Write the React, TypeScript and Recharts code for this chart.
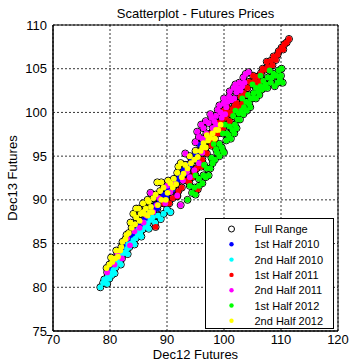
import React from 'react';
import { ScatterChart, Scatter, XAxis, YAxis, CartesianGrid, ReferenceArea } from 'recharts';

type Pt = [number, number];

const xTicks = [70, 80, 90, 100, 110, 120];
const yTicks = [75, 80, 85, 90, 95, 100, 105, 110];
const titleText = 'Scatterplot - Futures Prices';
const xLabel = 'Dec12 Futures';
const yLabel = 'Dec13 Futures';

const seriesNames = ['1st Half 2010', '2nd Half 2010', '1st Half 2011', '2nd Half 2011', '1st Half 2012', '2nd Half 2012'];
const seriesColors = ['#0000FF', '#00FFFF', '#FF0000', '#FF00FF', '#00FF00', '#FFFF00'];

const h1_2010: Pt[] = [
  [80.2, 82.0], [81.0, 82.9], [81.8, 83.7], [82.5, 84.4], [83.2, 85.2], [84.0, 85.9], [84.7, 86.5],
  [85.3, 87.1], [86.0, 87.7], [86.7, 88.4], [87.3, 88.9], [88.0, 89.4], [88.7, 90.0], [89.4, 90.6],
  [90.1, 91.1], [90.8, 91.6], [91.5, 92.2], [92.2, 92.8], [92.9, 93.4], [93.6, 94.0], [94.3, 94.7],
  [95.0, 95.3], [95.8, 96.3], [96.3, 96.8], [89.0, 89.7], [86.4, 87.6], [84.4, 85.9], [91.0, 91.2],
  [81.5, 83.6], [82.9, 84.8], [83.6, 85.8], [85.0, 86.9], [85.8, 87.4], [86.9, 88.0], [87.6, 89.2],
  [88.3, 89.0], [89.9, 90.4], [90.5, 91.6], [92.0, 92.3], [93.2, 93.0], [94.0, 93.9], [95.3, 94.6],
];

const h2_2010: Pt[] = [
  [78.3, 80.0], [78.8, 80.5], [79.2, 80.6], [79.6, 81.2], [80.0, 81.6], [80.3, 81.4], [80.6, 82.0],
  [81.0, 82.3], [81.3, 82.8], [81.7, 83.0], [82.0, 83.5], [82.3, 83.9], [82.7, 84.0], [83.0, 84.4],
  [83.4, 84.6], [83.7, 85.0], [84.1, 85.4], [84.5, 85.6], [84.9, 86.0], [85.3, 86.2], [85.7, 86.6],
  [86.2, 86.9], [86.6, 87.3], [87.1, 87.7], [87.5, 88.0], [83.2, 84.9], [81.6, 83.4], [85.0, 86.6],
  [86.0, 87.4], [79.9, 81.0], [88.4, 88.2], [89.4, 88.4], [90.6, 88.6],
  [79.0, 80.9], [80.8, 81.6], [81.9, 82.6], [83.1, 83.8], [84.3, 84.9], [85.5, 85.8], [86.8, 86.7],
  [87.9, 87.4], [88.9, 87.8], [90.0, 88.9], [79.5, 80.4],
];

const h1_2011: Pt[] = [
  [88.0, 86.9], [89.4, 89.6], [90.4, 89.6], [91.0, 90.2], [91.8, 90.4], [92.6, 91.4], [93.5, 92.2],
  [94.4, 92.6], [95.4, 91.2], [95.2, 93.6], [96.2, 94.6], [97.0, 95.3], [97.8, 96.2], [98.2, 96.6],
  [98.6, 97.6], [99.3, 98.3], [99.6, 99.0], [100.3, 99.4], [100.8, 100.0], [101.5, 100.4], [102.2, 101.1],
  [102.9, 101.8], [103.5, 102.2], [104.1, 102.8], [104.8, 103.4], [105.4, 103.6], [105.9, 104.1],
  [106.5, 104.5], [107.2, 104.9], [107.7, 105.2], [108.2, 105.9], [108.7, 106.4], [109.1, 106.0],
  [109.6, 107.0], [110.1, 107.4], [110.6, 107.8], [111.0, 108.0], [111.4, 108.4], [106.2, 103.5],
  [103.2, 101.0], [101.0, 99.0], [99.0, 97.6], [97.4, 96.8], [100.0, 100.2],
  [96.6, 95.8], [97.8, 97.6], [98.8, 98.8], [99.8, 98.2], [100.5, 100.6], [101.2, 99.8], [101.9, 100.8],
  [102.6, 100.6], [103.8, 102.0], [104.4, 103.5], [105.1, 104.2], [105.7, 103.0], [106.8, 105.0],
  [107.5, 105.8], [108.5, 105.4], [109.4, 106.6], [110.4, 107.2], [92.0, 91.0], [93.9, 92.0],
  [94.8, 93.2], [96.0, 93.8], [90.0, 89.6],
];

const h2_2011: Pt[] = [
  [95.0, 96.6], [95.6, 97.2], [96.4, 98.2], [96.9, 97.6], [97.3, 98.8], [97.8, 99.4], [98.3, 99.0],
  [98.9, 100.3], [99.4, 100.0], [99.9, 101.0], [100.4, 100.6], [100.9, 101.8], [101.3, 101.4],
  [101.7, 102.8], [102.2, 102.3], [102.7, 103.4], [103.2, 103.0], [103.8, 104.4], [104.3, 104.6],
  [103.4, 104.0], [101.0, 102.4], [99.2, 100.8], [97.6, 99.8], [98.6, 98.6], [100.2, 99.8], [96.2, 97.0],
  [79.5, 81.7], [80.8, 82.6], [82.1, 83.3], [83.5, 84.8], [85.2, 86.8], [86.4, 88.2], [87.1, 90.8],
  [88.6, 90.2], [89.7, 89.6], [90.6, 90.9], [91.8, 90.5], [92.4, 89.4], [93.2, 95.3], [94.0, 92.6],
  [94.8, 93.4],
  [81.3, 83.9], [83.0, 85.6], [84.3, 86.4], [85.9, 87.4], [87.6, 88.6], [88.2, 89.4], [90.0, 91.6],
  [91.4, 91.8], [92.8, 92.2], [93.5, 93.2], [95.6, 94.2], [96.2, 95.4],
  [95.3, 97.8], [96.0, 98.6], [96.8, 99.0], [97.1, 97.2], [98.0, 98.2], [98.6, 99.6], [99.6, 99.4],
  [100.6, 101.2], [101.8, 101.6], [102.4, 102.8], [102.9, 102.5], [103.6, 103.4], [100.0, 101.6],
  [102.0, 103.2],
];

const h1_2012: Pt[] = [
  [93.6, 90.0], [94.4, 90.8], [95.0, 90.6], [95.6, 91.6], [96.2, 91.9], [96.8, 92.6], [97.3, 92.8],
  [97.6, 93.6], [98.0, 94.2], [98.4, 94.6], [98.8, 95.4], [99.2, 95.0], [99.6, 96.0], [100.0, 95.4],
  [100.4, 96.8], [100.8, 97.4], [101.2, 97.0], [101.5, 98.0], [101.9, 98.6], [102.4, 99.2], [102.6, 99.9],
  [103.0, 100.2], [103.5, 100.6], [103.9, 101.2], [104.4, 101.0], [104.7, 101.6], [105.2, 102.2],
  [105.6, 102.8], [106.0, 102.4], [106.4, 103.0], [106.9, 103.6], [107.3, 103.2], [107.7, 104.0],
  [108.2, 103.4], [108.7, 104.4], [109.2, 104.2], [109.6, 104.8], [110.1, 105.0], [110.3, 103.4],
  [109.8, 103.8], [108.0, 104.8], [106.4, 104.2], [105.0, 103.2], [103.2, 101.6], [101.6, 99.6],
  [99.8, 97.6], [98.2, 96.4], [96.5, 94.0], [95.0, 92.8],
  [94.0, 91.6], [94.8, 91.4], [95.6, 92.4], [96.4, 92.8], [97.0, 93.6], [97.8, 94.8], [98.6, 95.8],
  [99.2, 96.4], [99.8, 95.6], [100.5, 97.6], [101.0, 98.4], [101.8, 97.6], [102.2, 98.2], [102.8, 99.2],
  [103.4, 99.8], [104.0, 100.2], [104.6, 100.6], [105.0, 101.6], [105.6, 101.6], [106.2, 102.0],
  [106.6, 102.6], [107.0, 102.8], [107.6, 102.8], [108.4, 104.0], [108.9, 103.0], [109.4, 103.4],
  [110.0, 104.2], [102.0, 100.2], [104.2, 102.0], [100.2, 98.6],
];

const h2_2012: Pt[] = [
  [79.4, 82.2], [79.9, 82.6], [80.4, 82.9], [80.9, 83.3], [81.4, 83.5], [81.8, 84.2], [82.2, 85.2],
  [82.7, 85.5], [83.3, 86.2], [83.8, 86.8], [84.1, 88.4], [84.6, 88.0], [85.0, 89.0], [85.4, 88.4],
  [85.8, 89.6], [86.3, 89.0], [86.8, 89.8], [87.2, 89.2], [87.6, 90.2], [88.0, 90.6], [88.3, 92.0],
  [88.8, 91.0], [89.4, 91.4], [90.1, 90.8], [90.6, 91.9], [91.2, 92.4], [91.8, 93.1], [92.4, 94.2],
  [92.9, 93.0], [93.6, 93.6], [94.2, 94.2], [94.8, 94.6], [95.4, 94.9], [95.9, 95.6], [96.4, 96.5],
  [96.8, 96.0], [97.2, 96.8], [97.6, 97.1], [98.0, 97.6], [98.6, 98.0], [99.0, 98.0], [86.0, 88.4],
  [87.0, 88.6], [89.0, 90.0], [91.0, 91.4],
  [80.2, 83.4], [81.1, 84.2], [82.0, 84.6], [82.9, 86.0], [83.6, 87.4], [84.4, 87.2], [85.2, 87.6],
  [86.6, 88.2], [87.4, 88.6], [88.4, 89.4], [89.8, 90.0], [90.2, 92.2], [91.6, 91.8], [92.6, 92.6],
  [93.2, 94.0], [94.0, 95.0], [95.0, 95.6], [96.2, 96.0], [97.0, 97.4], [98.4, 97.0], [99.4, 98.6],
  [84.6, 89.0], [85.8, 88.6], [86.6, 90.0], [89.0, 92.0], [92.0, 93.8],
];

const seriesData: Pt[][] = [h1_2010, h2_2010, h1_2011, h2_2011, h1_2012, h2_2012];
const fullRange: Pt[] = seriesData.flat();

const toObj = (arr: Pt[]) => arr.map(([x, y]) => ({ x, y }));

const FONT = '"Liberation Sans", Arial, Helvetica, sans-serif';

const RingShape = (props: any) => {
  const { cx, cy } = props;
  if (cx == null || cy == null) return <g />;
  return <circle cx={cx} cy={cy} r={3.5} fill="none" stroke="#000" strokeWidth={1} />;
};

const makeDot = (color: string) => (props: any) => {
  const { cx, cy } = props;
  if (cx == null || cy == null) return <g />;
  return <circle cx={cx} cy={cy} r={2.9} fill={color} stroke="none" />;
};

const Legend = () => {
  const rows = ['Full Range', ...seriesNames];
  return (
    <svg
      width={129}
      height={111}
      style={{ position: 'absolute', left: 204.5, top: 217.5, overflow: 'visible' }}
    >
      <rect x={0.5} y={0.5} width={128} height={110} fill="#fff" stroke="#000" strokeWidth={1} />
      {rows.map((name, i) => {
        const cy = 11 + i * 15.3;
        return (
          <g key={name}>
            {i === 0 ? (
              <circle cx={26.5} cy={cy} r={3} fill="none" stroke="#000" strokeWidth={1} />
            ) : (
              <circle cx={26.5} cy={cy} r={2.2} fill={seriesColors[i - 1]} />
            )}
            <text x={49.5} y={cy + 4} fontFamily={FONT} fontSize={11} fill="#000">
              {name}
            </text>
          </g>
        );
      })}
    </svg>
  );
};

export default function App() {
  return (
    <div style={{ position: 'absolute', left: 0, top: 0, width: 350, height: 362, background: '#fff' }}>
      <div
        style={{
          position: 'absolute',
          left: 53,
          top: 6,
          width: 285,
          textAlign: 'center',
          fontFamily: FONT,
          fontSize: 13,
          lineHeight: '15px',
          color: '#000',
        }}
      >
        {titleText}
      </div>
      <ScatterChart width={350} height={362} margin={{ top: 25, right: 12, bottom: 0, left: 0 }}>
        <CartesianGrid stroke="#000" strokeDasharray="2 2" strokeWidth={0.8} />
        <XAxis
          type="number"
          dataKey="x"
          domain={[70, 120]}
          ticks={xTicks}
          allowDataOverflow
          height={31}
          tickLine={false}
          tickSize={4}
          tickMargin={0}
          axisLine={{ stroke: '#000' }}
          tick={{ fill: '#000', fontSize: 13, fontFamily: FONT }}
          label={{ value: xLabel, position: 'insideBottom', offset: 3, fill: '#000', fontSize: 13, fontFamily: FONT }}
        />
        <YAxis
          type="number"
          dataKey="y"
          domain={[75, 110]}
          ticks={yTicks}
          allowDataOverflow
          width={53}
          tickLine={false}
          tickSize={4}
          tickMargin={2}
          axisLine={{ stroke: '#000' }}
          tick={{ fill: '#000', fontSize: 13, fontFamily: FONT }}
          label={{
            value: yLabel,
            angle: -90,
            position: 'insideLeft',
            offset: 12,
            fill: '#000',
            fontSize: 13,
            fontFamily: FONT,
            style: { textAnchor: 'middle' },
          }}
        />
        <ReferenceArea x1={70} x2={120} y1={75} y2={110} fill="none" stroke="#000" strokeWidth={1} fillOpacity={0} />
        <Scatter name="Full Range" data={toObj(fullRange)} shape={RingShape} isAnimationActive={false} />
        {seriesData.map((d, i) => (
          <Scatter
            key={seriesNames[i]}
            name={seriesNames[i]}
            data={toObj(d)}
            shape={makeDot(seriesColors[i])}
            isAnimationActive={false}
          />
        ))}
      </ScatterChart>
      <Legend />
    </div>
  );
}
